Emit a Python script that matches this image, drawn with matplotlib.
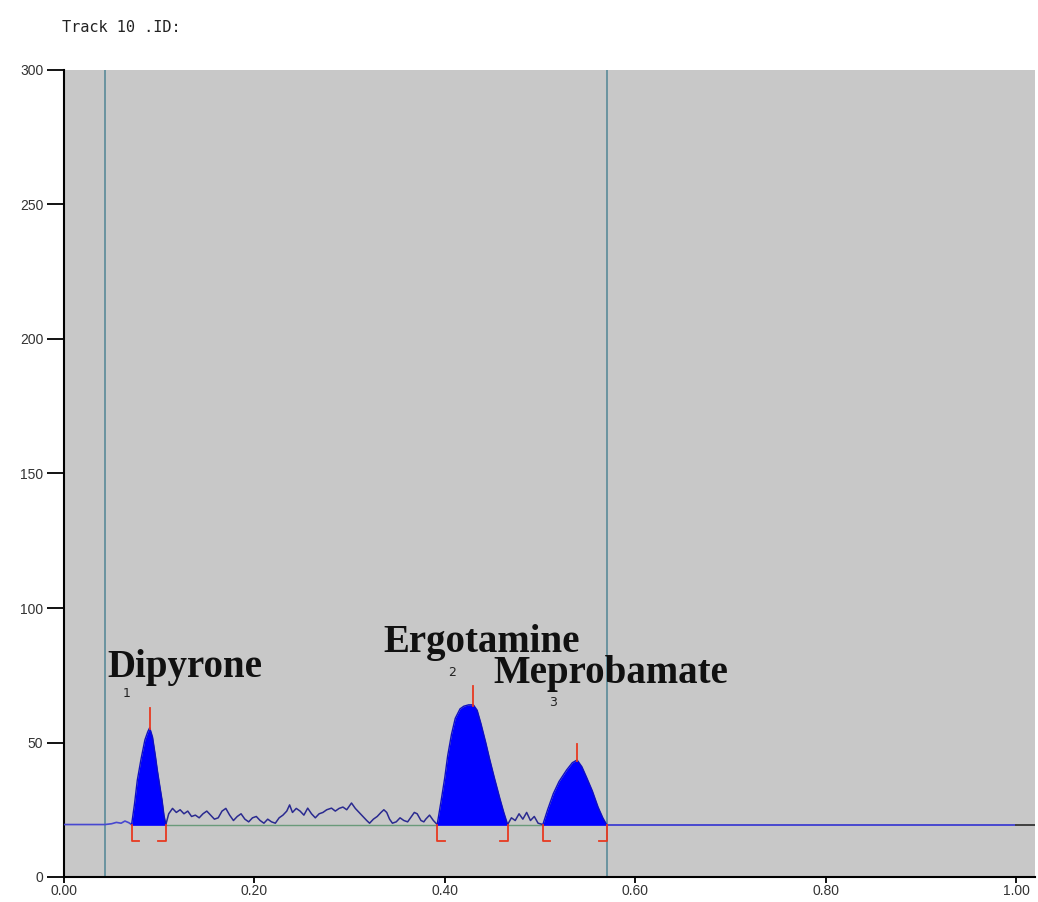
import matplotlib
matplotlib.use("Agg")
import matplotlib.pyplot as plt
import numpy as np

# ---------------- data ----------------
title_text = "Track 10 .ID:"
x_ticks = [0.0, 0.2, 0.4, 0.6, 0.8, 1.0]
x_tick_labels = ["0.00", "0.20", "0.40", "0.60", "0.80", "1.00"]
y_ticks = [0, 50, 100, 150, 200, 250, 300]
y_tick_labels = ["0", "50", "100", "150", "200", "250", "300"]

baseline = 19.5
window_lines = [0.043, 0.570]

# pre-peak trace
pre_x = [0.0, 0.043, 0.050, 0.055, 0.060, 0.064, 0.068, 0.071]
pre_y = [19.5, 19.5, 19.8, 20.3, 20.0, 20.8, 20.2, 19.5]

# peak 1 - Dipyrone
p1_x = [0.071, 0.074, 0.077, 0.081, 0.085, 0.088, 0.090, 0.093, 0.096, 0.098, 0.101, 0.103, 0.105, 0.107]
p1_y = [19.5, 27.0, 36.0, 44.0, 51.0, 54.0, 55.5, 52.0, 45.0, 39.8, 33.0, 28.6, 23.0, 19.5]

# noise between peak 1 and peak 2
n1_x = [0.107, 0.110, 0.114, 0.118, 0.122, 0.126, 0.130, 0.134, 0.138, 0.142, 0.146,
        0.150, 0.154, 0.158, 0.162, 0.166, 0.170, 0.174, 0.178, 0.182, 0.186, 0.190,
        0.194, 0.198, 0.202, 0.206, 0.210, 0.214, 0.218, 0.222, 0.226, 0.230, 0.234,
        0.237, 0.240, 0.244, 0.248, 0.252, 0.256, 0.260, 0.264, 0.268, 0.272, 0.276,
        0.281, 0.285, 0.289, 0.293, 0.297, 0.302, 0.306, 0.310, 0.314, 0.318, 0.321,
        0.325, 0.329, 0.333, 0.336, 0.339, 0.342, 0.345, 0.349, 0.353, 0.357, 0.361,
        0.365, 0.368, 0.371, 0.375, 0.378, 0.380, 0.384, 0.388, 0.392]
n1_y = [19.5, 23.5, 25.5, 24.0, 25.0, 23.5, 24.5, 22.5, 23.0, 22.0, 23.5,
        24.5, 23.0, 21.5, 22.0, 24.5, 25.5, 23.0, 21.0, 22.5, 23.5, 21.5,
        20.5, 22.0, 22.5, 21.0, 20.0, 21.5, 20.5, 20.0, 22.0, 23.0, 24.5,
        26.8, 24.0, 25.5, 24.5, 23.0, 25.6, 23.5, 22.0, 23.5, 24.0, 25.0,
        25.6, 24.5, 25.5, 26.0, 25.0, 27.5, 25.5, 24.0, 22.5, 21.0, 20.0,
        21.5, 22.5, 24.0, 25.0, 24.0, 21.5, 20.0, 20.5, 22.0, 21.0, 20.5,
        22.5, 24.0, 23.5, 21.0, 20.5, 21.5, 23.0, 21.0, 19.5]

# peak 2 - Ergotamine
p2_x = [0.392, 0.396, 0.400, 0.403, 0.407, 0.411, 0.416, 0.420, 0.425, 0.430, 0.434,
        0.438, 0.443, 0.447, 0.452, 0.458, 0.462, 0.466]
p2_y = [19.5, 28.0, 37.0, 45.0, 53.0, 59.0, 62.5, 63.5, 64.0, 64.0, 62.0,
        57.0, 50.0, 44.0, 37.0, 29.0, 24.0, 19.5]

# noise between peak 2 and peak 3
n2_x = [0.466, 0.470, 0.474, 0.478, 0.482, 0.486, 0.490, 0.494, 0.498, 0.503]
n2_y = [19.5, 22.0, 21.0, 23.5, 21.5, 24.0, 21.0, 22.5, 20.0, 19.5]

# peak 3 - Meprobamate
p3_x = [0.503, 0.508, 0.514, 0.520, 0.528, 0.534, 0.539, 0.544, 0.549, 0.555, 0.561, 0.566, 0.570]
p3_y = [19.5, 25.0, 31.0, 35.5, 39.8, 42.5, 43.5, 41.0, 37.0, 32.0, 26.0, 22.0, 19.5]

# post trace
post_x = [0.570, 1.000]
post_y = [19.5, 19.5]
tail_x = [1.000, 1.020]
tail_y = [19.5, 19.5]

# peak markers (x, top)
peak_marks_x = [0.090, 0.430, 0.539]
peak_marks_top = [62.8, 71.0, 49.4]
bracket_left = [0.071, 0.392, 0.503]
bracket_right = [0.107, 0.466, 0.570]

compound_names = ["Dipyrone", "Ergotamine", "Meprobamate"]
name_pos = [(0.046, 77.7), (0.335, 87.0), (0.451, 75.8)]
numbers = ["1", "2", "3"]
number_pos = [(0.066, 68.4), (0.408, 76.0), (0.514, 64.7)]

# ---------------- plot ----------------
fig = plt.figure(figsize=(10.38, 9.02), dpi=100)
ax = fig.add_axes([64 / 1038, 1 - 877 / 902, (1035 - 64) / 1038, (877 - 70) / 902])
ax.set_facecolor("#c8c8c8")
ax.set_xlim(0, 1.02)
ax.set_ylim(0, 300)

line_col = "#2a2a90"
base_col = "#4848d0"

# green baseline under noise
ax.plot([0.107, 0.392], [baseline, baseline], color="#6a9a7a", lw=1.0, zorder=2)
ax.plot([0.466, 0.503], [baseline, baseline], color="#6a9a7a", lw=1.0, zorder=2)

for lx in window_lines:
    ax.axvline(lx, color="#5a8a98", lw=1.2, zorder=1)

ax.plot(pre_x, pre_y, color=base_col, lw=1.2, zorder=3)
ax.plot(n1_x, n1_y, color=line_col, lw=1.1, zorder=3)
ax.plot(n2_x, n2_y, color=line_col, lw=1.1, zorder=3)
ax.plot(post_x, post_y, color=base_col, lw=1.4, zorder=3)
ax.plot(tail_x, tail_y, color="#404040", lw=1.4, zorder=3)

for px, py in [(p1_x, p1_y), (p2_x, p2_y), (p3_x, p3_y)]:
    ax.fill_between(px, baseline, py, color="#0000ff", lw=0, zorder=4)
    ax.plot(px, py, color="#1010c0", lw=1.0, zorder=5)
    ax.plot([px[0], px[-1]], [baseline, baseline], color="#0000ff", lw=1.2, zorder=5)

red = "#e83a20"
for mx, mt, py in zip(peak_marks_x, peak_marks_top, [p1_y, p2_y, p3_y]):
    ax.plot([mx, mx], [max(py) - 0.5, mt], color=red, lw=1.3, zorder=6)

b_bot = 13.5
dx = 0.008
for bl, br in zip(bracket_left, bracket_right):
    ax.plot([bl, bl, bl + dx], [baseline, b_bot, b_bot], color=red, lw=1.3, zorder=6)
    ax.plot([br, br, br - dx], [baseline, b_bot, b_bot], color=red, lw=1.3, zorder=6)

for name, (tx, ty) in zip(compound_names, name_pos):
    ax.text(tx, ty, name, family="Liberation Serif", fontweight="bold",
            fontsize=28, color="#111111", ha="left", va="center", zorder=7)
for num, (tx, ty) in zip(numbers, number_pos):
    ax.text(tx, ty, num, family="DejaVu Sans", fontsize=9,
            color="#222222", ha="center", va="center", zorder=7)

ax.spines["top"].set_visible(False)
ax.spines["right"].set_visible(False)
ax.spines["left"].set_linewidth(1.5)
ax.spines["bottom"].set_linewidth(1.5)
ax.set_xticks(x_ticks)
ax.set_xticklabels(x_tick_labels)
ax.set_yticks(y_ticks)
ax.set_yticklabels(y_tick_labels)
ax.tick_params(axis="y", direction="out", length=12, width=1.3, labelsize=10,
               labelcolor="#333333", pad=3)
ax.tick_params(axis="x", direction="out", length=4, width=1.3, labelsize=10,
               labelcolor="#333333", pad=1)
for lab in ax.get_xticklabels() + ax.get_yticklabels():
    lab.set_family("Liberation Sans")

fig.text(62 / 1038, 1 - 28 / 902, title_text, family="DejaVu Sans Mono",
         fontsize=11, color="#222222", ha="left", va="center")

fig.savefig("out.png", dpi=100, facecolor="white")
